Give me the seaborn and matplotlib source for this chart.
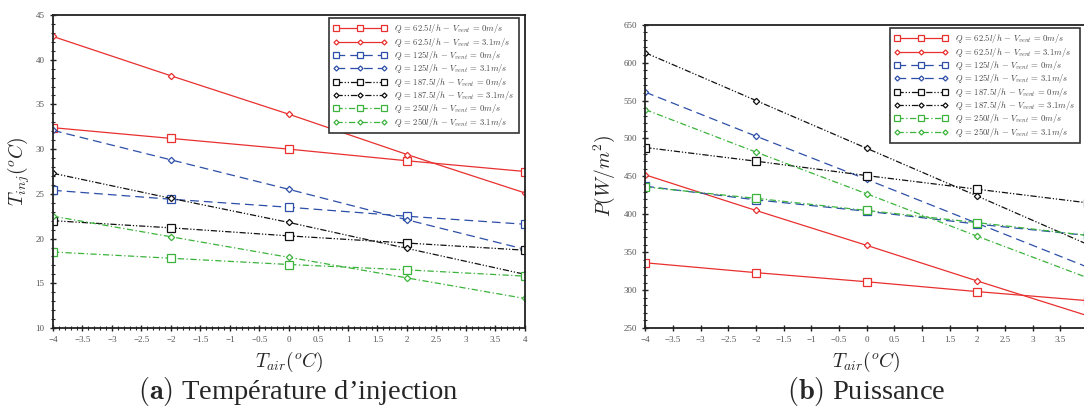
import numpy as np
import pandas as pd
import matplotlib
matplotlib.use("Agg")
import matplotlib.pyplot as plt
import seaborn as sns

sns.set_theme(style="ticks")
plt.rcParams["font.family"] = ["Liberation Serif", "DejaVu Serif"]
plt.rcParams["mathtext.fontset"] = "cm"

# ---------------- data ----------------
t_air = [-4, -2, 0, 2, 4]

series_labels = [
    r"$Q\,=\,62.5l/h\,-\,V_{vent}\,=\,0m/s$",
    r"$Q\,=\,62.5l/h\,-\,V_{vent}\,=\,3.1m/s$",
    r"$Q\,=\,125l/h\,-\,V_{vent}\,=\,0m/s$",
    r"$Q\,=\,125l/h\,-\,V_{vent}\,=\,3.1m/s$",
    r"$Q\,=\,187.5l/h\,-\,V_{vent}\,=\,0m/s$",
    r"$Q\,=\,187.5l/h\,-\,V_{vent}\,=\,3.1m/s$",
    r"$Q\,=\,250l/h\,-\,V_{vent}\,=\,0m/s$",
    r"$Q\,=\,250l/h\,-\,V_{vent}\,=\,3.1m/s$",
]

# (a) injection temperature (degC)
tinj_q62_v0 = [32.4, 31.2, 30.0, 28.7, 27.5]
tinj_q62_v31 = [42.6, 38.2, 33.9, 29.4, 25.1]
tinj_q125_v0 = [25.4, 24.4, 23.5, 22.5, 21.6]
tinj_q125_v31 = [32.1, 28.8, 25.5, 22.1, 18.8]
tinj_q187_v0 = [22.0, 21.2, 20.3, 19.5, 18.7]
tinj_q187_v31 = [27.3, 24.5, 21.8, 18.9, 16.0]
tinj_q250_v0 = [18.5, 17.8, 17.1, 16.5, 15.8]
tinj_q250_v31 = [22.5, 20.2, 17.9, 15.6, 13.3]

# (b) power (W/m2)
p_q62_v0 = [336, 323, 311, 298, 286]
p_q62_v31 = [452, 405, 359, 312, 266]
p_q125_v0 = [437, 419, 404, 387, 372]
p_q125_v31 = [561, 503, 446, 388, 330]
p_q187_v0 = [488, 470, 451, 433, 415]
p_q187_v31 = [613, 550, 487, 424, 360]
p_q250_v0 = [436, 421, 405, 389, 372]
p_q250_v31 = [538, 482, 427, 371, 316]

tinj_all = [tinj_q62_v0, tinj_q62_v31, tinj_q125_v0, tinj_q125_v31,
            tinj_q187_v0, tinj_q187_v31, tinj_q250_v0, tinj_q250_v31]
p_all = [p_q62_v0, p_q62_v31, p_q125_v0, p_q125_v31,
         p_q187_v0, p_q187_v31, p_q250_v0, p_q250_v31]

# ---------------- styles ----------------
red, blue, black, green = "#e8302f", "#2d4fa8", "#111111", "#3cb33c"
colors = [red, red, blue, blue, black, black, green, green]
dash_solid = "-"
dash_blue = (0, (7, 4))
dash_black = (0, (5, 1.5, 1, 1.5, 1, 1.5))
dash_green = (0, (5, 2, 1, 2))
styles = [dash_solid, dash_solid, dash_blue, dash_blue,
          dash_black, dash_black, dash_green, dash_green]
markers = ["s", "D", "s", "D", "s", "D", "s", "D"]
msizes = [5.5, 3.2, 5.5, 3.2, 5.5, 3.2, 5.5, 3.2]

fig = plt.figure(figsize=(10.84, 4.12), dpi=100)
ax1 = fig.add_axes([53 / 1084, 84 / 412, 472 / 1084, 313 / 412])
ax2 = fig.add_axes([645.3 / 1084, 84 / 412, 442.7 / 1084, 303.3 / 412])


def draw(ax, values, anchor):
    for lab, vals, c, ls, m, ms in zip(series_labels, values, colors, styles, markers, msizes):
        df = pd.DataFrame({"x": t_air, "y": vals})
        sns.lineplot(data=df, x="x", y="y", ax=ax, color=c, linestyle=ls,
                     linewidth=0.9, marker=m, markersize=ms,
                     markerfacecolor="white", markeredgecolor=c,
                     markeredgewidth=0.9, label=lab, legend=False)
    leg = ax.legend(loc="upper right", bbox_to_anchor=anchor,
                    bbox_transform=fig.transFigure, borderaxespad=0,
                    fontsize=6.2, numpoints=3, markerscale=0.8,
                    handlelength=6.2, handletextpad=0.9, fancybox=False,
                    framealpha=1, edgecolor="#333333", labelspacing=0.04,
                    borderpad=0.5)
    leg.get_frame().set_linewidth(1.2)
    for t in leg.get_texts():
        t.set_color("#444444")


draw(ax1, tinj_all, (519 / 1084, 1 - 18 / 412))
draw(ax2, p_all, (1080 / 1084, 1 - 28 / 412))

for ax in (ax1, ax2):
    ax.set_xlim(-4, 4)
    ax.set_xticks(np.arange(-4, 4.01, 0.5))
    ax.set_xticklabels([f"{v:g}".replace("-", "\u2212") for v in np.arange(-4, 4.01, 0.5)])
    ax.tick_params(axis="both", which="major", labelsize=6.5, labelcolor="#555555",
                   direction="inout", length=5, width=1, color="#222222")
    ax.tick_params(axis="both", which="minor", direction="inout", length=3,
                   width=0.8, color="#222222")
    for s in ax.spines.values():
        s.set_visible(True)
        s.set_linewidth(1.3)
        s.set_color("#222222")
    ax.set_xlabel(r"$T_{air}(^oC)$", fontsize=14, labelpad=4)

ax1.set_ylim(10, 45)
ax1.set_yticks(np.arange(10, 46, 5))
ax1.set_xticks(np.arange(-4, 4.01, 0.1), minor=True)
ax1.set_yticks(np.arange(10, 45.01, 1), minor=True)
ax1.set_ylabel(r"$T_{inj}(^oC)$", fontsize=14, labelpad=3)

ax2.set_ylim(250, 650)
ax2.set_yticks(np.arange(250, 651, 50))
ax2.set_yticks(np.arange(250, 651, 10), minor=True)
ax2.set_ylabel(r"$P(W/m^2)$", fontsize=14, labelpad=5)

fig.text(298 / 1084, 1 - 392 / 412, r"$\mathbf{(a)}$ Température d’injection",
         ha="center", va="center", fontsize=20.5)
fig.text(866 / 1084, 1 - 392 / 412, r"$\mathbf{(b)}$ Puissance",
         ha="center", va="center", fontsize=20.5)

fig.savefig("out.png", dpi=100)
